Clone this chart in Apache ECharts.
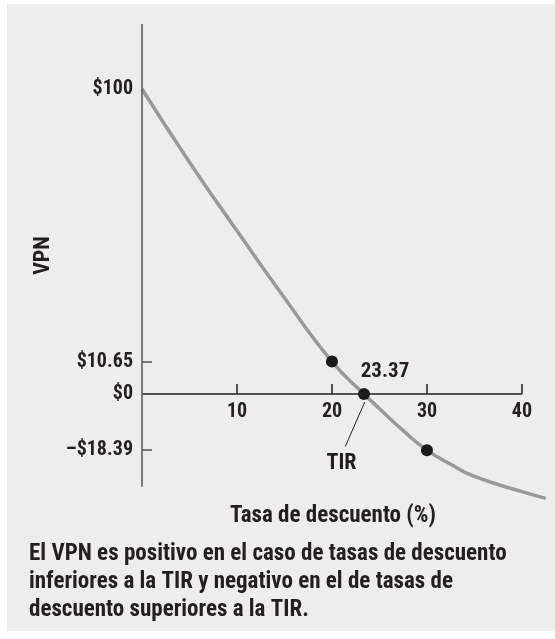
<!DOCTYPE html>
<html style="height: 100%;">
   <head>
       <meta charset="utf-8">
       <title>VPN y TIR</title>
       <script type="text/javascript" src="https://cdn.jsdelivr.net/npm/echarts@6.0.0/dist/echarts.min.js"></script>
   </head>
   <body style="height: 100%; margin: 0; background: #fff">
       <div id="container" style="width: 555px; height: 639px"></div>
       <script type="text/javascript">
			// curva VPN
			var tasas = [0, 5, 10, 15, 20, 23.37, 25, 27.5, 30, 32.5, 35, 40, 42.5];
			var vpn = [100, 76, 53.5, 31.5, 10.65, 0, -4.8, -12, -18.39, -23, -27, -32, -34.2];
			// puntos marcados
			var puntosTasa = [20, 23.37, 30];
			var puntosVpn = [10.65, 0, -18.39];
			var etiquetasY = [-18.39, 0, 10.65, 100];
			var textosY = ['\u2013$18.39', '$0', '$10.65', '$100'];
			var ticksX = [10, 20, 30, 40];
			// lineas de los ejes (tramos visibles)
			var ejeX = [[0, 0], [40, 0]];
			var ejeY = [[0, -30.4], [0, 121.3]];
			// flecha TIR (inicio, fin) y posicion del texto
			var flechaTIR = [[21.4, -17.2], [23.45, -2.6]];
			var textoTIR = [21.0, -22.8];

			var fuente = '"Roboto Condensed", "Open Sans Condensed", sans-serif';
			var negro = '#231f20';

			var dom = document.getElementById("container");
			var myChart = echarts.init(dom);
			var option = null;

			var curva = tasas.map(function (t, i) { return [t, vpn[i]]; });
			var puntos = puntosTasa.map(function (t, i) { return [t, puntosVpn[i]]; });

			option = {
			    animation: false,
			    graphic: [
			        {
			            type: 'rect',
			            z: -10,
			            shape: { x: 7, y: 4, width: 548, height: 627 },
			            style: { fill: '#ededed' }
			        },
			        {
			            type: 'text',
			            left: 29,
			            top: 540,
			            style: {
			                text: 'El VPN es positivo en el caso de tasas de descuento\ninferiores a la TIR y negativo en el de tasas de\ndescuento superiores a la TIR.',
			                font: 'bold 23px ' + fuente,
			                lineHeight: 28,
			                fill: negro
			            }
			        }
			    ],
			    grid: { left: 142, top: 24, right: 3, bottom: 129 },
			    xAxis: {
			        type: 'value',
			        min: 0,
			        max: 43.16,
			        interval: 10,
			        offset: -116,
			        name: 'Tasa de descuento (%)',
			        nameLocation: 'middle',
			        nameGap: 111,
			        nameTextStyle: { fontFamily: fuente, fontWeight: 'bold', fontSize: 23, color: negro, padding: [0, 28, 0, 0] },
			        axisLine: { show: false, onZero: false },
			        axisTick: { inside: true, length: 10, customValues: ticksX, lineStyle: { color: negro, width: 1.5 } },
			        axisLabel: {
			            customValues: ticksX,
			            margin: 8,
			            fontFamily: fuente, fontWeight: 'bold', fontSize: 20, color: negro
			        },
			        splitLine: { show: false }
			    },
			    yAxis: {
			        type: 'value',
			        min: -38,
			        max: 121.3,
			        name: 'VPN',
			        nameLocation: 'middle',
			        nameGap: 87,
			        nameTextStyle: { fontFamily: fuente, fontWeight: 'bold', fontSize: 22, color: negro, padding: [0, 0, 0, 23] },
			        axisLine: { show: false, onZero: false },
			        axisTick: { show: true, inside: true, length: 10, customValues: [-18.39, 10.65], lineStyle: { color: '#555', width: 1.5 } },
			        axisLabel: {
			            customValues: etiquetasY,
			            margin: 9,
			            fontFamily: fuente, fontWeight: 'bold', fontSize: 20, color: negro,
			            formatter: function (v) {
			                var i = etiquetasY.indexOf(v);
			                return i >= 0 ? textosY[i] : '';
			            }
			        },
			        splitLine: { show: false }
			    },
			    series: [
			        {
			            type: 'line',
			            data: curva,
			            smooth: 0.5,
			            showSymbol: false,
			            lineStyle: { color: '#999999', width: 3.5 },
			            z: 2,
			            markLine: {
			                silent: true,
			                symbol: ['none', 'none'],
			                label: { show: false },
			                lineStyle: { type: 'solid', width: 1.5 },
			                data: [
			                    [{ coord: ejeX[0], lineStyle: { color: negro } }, { coord: ejeX[1] }],
			                    [{ coord: ejeY[0], lineStyle: { color: '#555' } }, { coord: ejeY[1] }]
			                ]
			            }
			        },
			        {
			            type: 'scatter',
			            data: puntos,
			            symbolSize: 12,
			            itemStyle: { color: '#1a1a1a', opacity: 1 },
			            z: 3,
			            label: {
			                show: true,
			                position: 'top',
			                offset: [21, -1],
			                fontFamily: fuente, fontWeight: 'bold', fontSize: 21, color: negro,
			                formatter: function (p) { return p.value[1] === 0 ? String(p.value[0]) : ''; }
			            },
			            markLine: {
			                silent: true,
			                symbol: ['none', 'arrow'],
			                symbolSize: [0, 8],
			                label: { show: false },
			                lineStyle: { color: negro, width: 1, type: 'solid' },
			                data: [[{ coord: flechaTIR[0] }, { coord: flechaTIR[1] }]]
			            },
			            markPoint: {
			                silent: true,
			                symbolSize: 0,
			                label: {
			                    show: true, formatter: 'TIR',
			                    fontFamily: fuente, fontWeight: 'bold', fontSize: 22, color: negro
			                },
			                data: [{ coord: textoTIR }]
			            }
			        }
			    ]
			};
			if (option && typeof option === "object") {
			    myChart.setOption(option, true);
			}
       </script>
   </body>
</html>
